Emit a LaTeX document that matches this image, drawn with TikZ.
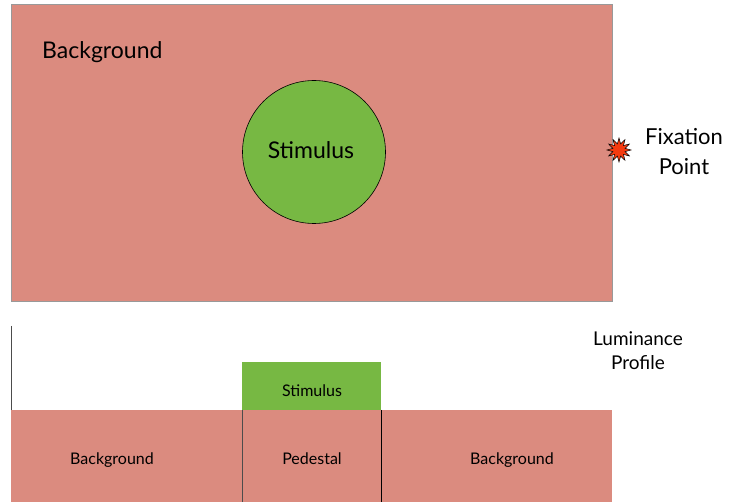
\documentclass[tikz,border=0pt]{standalone}
\usepackage{fontspec}
\setmainfont{Lato}
\usetikzlibrary{shapes.geometric}
\definecolor{bgred}{HTML}{DB8B7F}
\definecolor{stimgreen}{HTML}{77B843}
\definecolor{fixred}{HTML}{F53A0F}
\tikzset{
  lbl/.style={font=\fontsize{16}{18}\selectfont, inner sep=0pt, anchor=base},
  biglbl/.style={font=\fontsize{23}{26}\selectfont, inner sep=0pt, anchor=base},
  fixlbl/.style={font=\fontsize{22}{26}\selectfont, inner sep=0pt, anchor=base},
  midlbl/.style={font=\fontsize{19}{22}\selectfont, inner sep=0pt, anchor=base},
}
\begin{document}
\begin{tikzpicture}[x=1pt,y=-1pt]
\useasboundingbox (0,0) rectangle (729,502);
% top panel
\node[draw=gray!80, fill=bgred, minimum width=601pt, minimum height=297pt, anchor=north west, inner sep=0pt, line width=0.8pt] (field) at (11,4) {};
\node[biglbl, anchor=base west] (bglabel) at (42,59) {Background};
\node[circle, draw=black, fill=stimgreen, minimum size=143pt, inner sep=0pt, line width=0.6pt] (stim) at (314,152) {};
\node[biglbl] (stimlabel) at (311,159) {Stimulus};
\node[star, star points=12, star point ratio=1.9, draw=black, fill=fixred, minimum size=24pt, inner sep=0pt, line width=0.5pt] (fix) at (619,150) {};
\node[fixlbl] (fixlabel1) at (684,145) {Fixation};
\node[fixlbl] (fixlabel2) at (684,175) {Point};
% bottom panel
\coordinate (axtop) at (11,326);
\coordinate (axbot) at (11,502);
\draw[gray!60!black, line width=0.8pt] (axtop) -- (axbot);
\node[fill=bgred, minimum width=601pt, minimum height=92pt, anchor=north west, inner sep=0pt] (bar) at (11,410) {};
\node[fill=stimgreen, minimum width=139pt, minimum height=48pt, anchor=north west, inner sep=0pt] (stimbox) at (242,362) {};
\node[lbl] (stimboxlabel) at (312,397) {Stimulus};
\coordinate (p1t) at (242,410);
\coordinate (p1b) at (242,502);
\coordinate (p2t) at (381,410);
\coordinate (p2b) at (381,502);
\draw[black!70, line width=0.8pt] (p1t) -- (p1b);
\draw[black, line width=0.8pt] (p2t) -- (p2b);
\node[lbl] (bgl) at (112,465) {Background};
\node[lbl] (ped) at (312,465) {Pedestal};
\node[lbl] (bgr) at (512,465) {Background};
\node[midlbl] (lum1) at (638,346) {Luminance};
\node[midlbl] (lum2) at (638,370) {Profile};
\end{tikzpicture}
\end{document}
